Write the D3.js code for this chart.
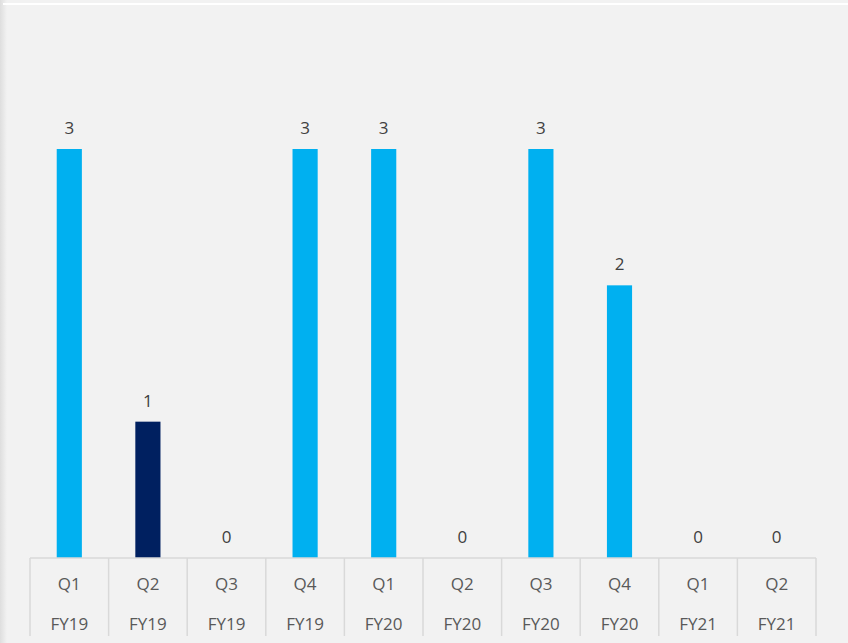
<!DOCTYPE html>
<html>
<head>
<meta charset="utf-8">
<script src="https://cdn.jsdelivr.net/npm/d3@7"></script>
<style>
  html, body { margin: 0; padding: 0; background: #f2f2f2; }
  svg { display: block; }
</style>
</head>
<body>
<svg id="chart" width="848" height="643"></svg>
<script>
// Quarterly counts, FY19 to FY21
const quarters = ["Q1", "Q2", "Q3", "Q4", "Q1", "Q2", "Q3", "Q4", "Q1", "Q2"];
const fiscalYears = ["FY19", "FY19", "FY19", "FY19", "FY20", "FY20", "FY20", "FY20", "FY21", "FY21"];
const counts = [3, 1, 0, 3, 3, 0, 3, 2, 0, 0];
const highlighted = [false, true, false, false, false, false, false, false, false, false];

const W = 848, H = 643;
const plot = { left: 30, right: 816, top: 40, bottom: 558 };

const svg = d3.select("#chart");

// Backdrop: gray panel with a soft shaded left edge and a thin white top rule
const defs = svg.append("defs");
const grad = defs.append("linearGradient").attr("id", "edge").attr("x1", 0).attr("x2", 1);
grad.append("stop").attr("offset", 0).attr("stop-color", "#dedede");
grad.append("stop").attr("offset", 1).attr("stop-color", "#f2f2f2");
svg.append("rect").attr("width", W).attr("height", H).attr("fill", "#f2f2f2");
svg.append("rect").attr("x", 0).attr("y", 0).attr("width", 7).attr("height", H).attr("fill", "url(#edge)");
svg.append("rect").attr("x", 3).attr("y", 3).attr("width", W - 3).attr("height", 2).attr("fill", "#ffffff");

const idx = d3.range(counts.length);
const x = d3.scaleBand().domain(idx).range([plot.left, plot.right]).paddingInner(0.68).paddingOuter(0.34);
const y = d3.scaleLinear().domain([0, 3]).range([plot.bottom, 149]);

// Bars
svg.append("g").selectAll("rect")
  .data(idx)
  .join("rect")
  .attr("x", i => x(i))
  .attr("y", i => y(counts[i]))
  .attr("width", x.bandwidth())
  .attr("height", i => y(0) - y(counts[i]))
  .attr("fill", i => highlighted[i] ? "#002060" : "#00b0f0");

// Value labels
const font = "'Open Sans', 'Noto Sans', sans-serif";
svg.append("g").selectAll("text")
  .data(idx)
  .join("text")
  .attr("x", i => x(i) + x.bandwidth() / 2)
  .attr("y", i => y(counts[i]) - 15)
  .attr("text-anchor", "middle")
  .attr("font-family", font)
  .attr("font-size", 17)
  .attr("fill", "#404040")
  .text(i => counts[i]);

// Category table under the baseline
const cellEdge = i => plot.left + i * (plot.right - plot.left) / counts.length;
const axis = svg.append("g").attr("stroke", "#d9d9d9").attr("stroke-width", 1.5);
axis.append("line")
  .attr("x1", plot.left).attr("x2", plot.right)
  .attr("y1", plot.bottom).attr("y2", plot.bottom);
axis.selectAll("line.div")
  .data(d3.range(counts.length + 1))
  .join("line")
  .attr("class", "div")
  .attr("x1", cellEdge)
  .attr("x2", cellEdge)
  .attr("y1", plot.bottom).attr("y2", 636);

const labels = svg.append("g")
  .attr("font-family", font)
  .attr("font-size", 17)
  .attr("fill", "#595959")
  .attr("text-anchor", "middle");
labels.selectAll("text.q")
  .data(idx)
  .join("text")
  .attr("class", "q")
  .attr("x", i => x(i) + x.bandwidth() / 2)
  .attr("y", 590)
  .text(i => quarters[i]);
labels.selectAll("text.fy")
  .data(idx)
  .join("text")
  .attr("class", "fy")
  .attr("x", i => x(i) + x.bandwidth() / 2)
  .attr("y", 630)
  .text(i => fiscalYears[i]);
</script>
</body>
</html>
